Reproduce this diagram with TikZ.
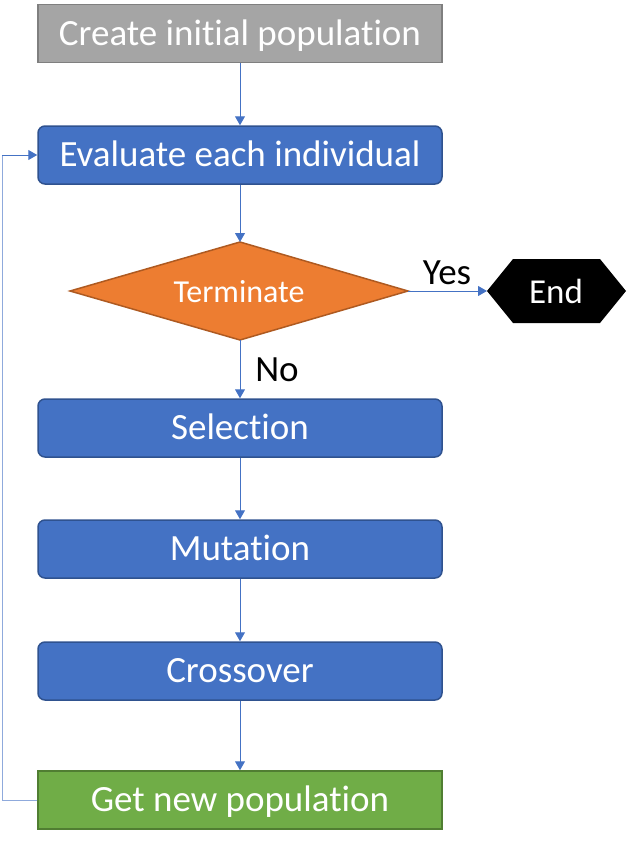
\documentclass[tikz,border=0pt]{standalone}
\usepackage{fontspec}
\setmainfont{Carlito}[Ligatures=NoCommon]
\usetikzlibrary{arrows.meta,shapes.geometric}
\definecolor{bluef}{HTML}{4472C4}
\definecolor{blued}{HTML}{2F528F}
\definecolor{grayf}{HTML}{A5A5A5}
\definecolor{grayd}{HTML}{7F7F7F}
\definecolor{orangef}{HTML}{ED7D31}
\definecolor{oranged}{HTML}{AE5A21}
\definecolor{greenf}{HTML}{70AD47}
\definecolor{greend}{HTML}{507E32}
\definecolor{linec}{HTML}{4472C4}
\definecolor{loopc}{HTML}{8FAADC}
\tikzset{
  x=1pt,y=-1pt,
  boxbase/.style={minimum width=404pt,minimum height=58pt,inner sep=0pt,line width=1.5pt,text=white,font=\fontsize{37}{40}\selectfont,text height=23.7pt,text depth=0pt},
  graybox/.style={boxbase,fill=grayf,draw=grayd},
  bluebox/.style={boxbase,fill=bluef,draw=blued,rounded corners=7pt},
  greenbox/.style={boxbase,fill=greenf,draw=greend},
  flow/.style={draw=linec,line width=1pt,-{Triangle[width=10pt,length=9pt]}},
  lbl/.style={font=\fontsize{37}{40}\selectfont,text=black,inner sep=0pt,text height=23.7pt,text depth=0pt},
  wtxt/.style={text=white,inner sep=0pt,text depth=0pt}
}
\begin{document}
\begin{tikzpicture}
\useasboundingbox (0,0) rectangle (627,846);
\node[graybox] (create) at (240,33.5) {Create initial population};
\node[bluebox] (eval) at (240,155) {Evaluate each individual};
\draw[fill=orangef,draw=oranged,line width=1.5pt] (70,291) -- (240,242) -- (408,291) -- (240,340) -- cycle;
\coordinate (dl) at (70,291);
\coordinate (dt) at (240,242);
\coordinate (dr) at (408,291);
\coordinate (db) at (240,340);
\node[wtxt,font=\fontsize{32}{36}\selectfont,text height=20.5pt] (term) at (239,292) {Terminate};
\fill[black] (487,291) -- (513,259) -- (600,259) -- (626,291) -- (600,323) -- (513,323) -- cycle;
\coordinate (endl) at (487,291);
\node[wtxt,font=\fontsize{35}{38}\selectfont,text height=22.4pt] (endt) at (556,292) {End};
\node[bluebox] (sel) at (240,428) {Selection};
\node[bluebox] (mut) at (240,549) {Mutation};
\node[bluebox] (cross) at (240,671) {Crossover};
\node[greenbox] (newpop) at (240,800) {Get new population};
\node[lbl] (yes) at (447,273) {Yes};
\node[lbl] (no) at (277,370) {No};
\draw[flow] (create.south) -- (eval.north);
\draw[flow] (eval.south) -- (dt);
\draw[flow] (dr) -- (endl);
\draw[flow] (db) -- (sel.north);
\draw[flow] (sel.south) -- (mut.north);
\draw[flow] (mut.south) -- (cross.north);
\draw[flow] (cross.south) -- (newpop.north);
\draw[draw=loopc,line width=1pt] (newpop.west) -- (2,800) -- (2,155) -- (20,155);
\coordinate (lp) at (2,155);
\draw[flow] (lp) -- (eval.west);
\end{tikzpicture}
\end{document}
